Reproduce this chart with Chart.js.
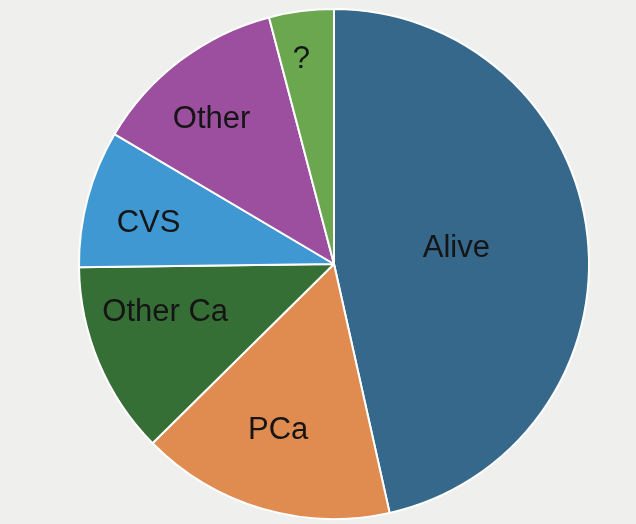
<!DOCTYPE html>
<html>
<head>
<meta charset="utf-8">
<script src="https://cdn.jsdelivr.net/npm/chart.js@4"></script>
<style>
  html, body { margin: 0; padding: 0; background: #efefed; }
  #wrap { width: 636px; height: 524px; }
</style>
</head>
<body>
<div id="wrap"><canvas id="pie"></canvas></div>
<script>
// slices, clockwise from 12 o'clock
const labels = ['Alive', 'PCa', 'Other Ca', 'CVS', 'Other', '?'];
const shares = [46.5, 16.1, 12.2, 8.7, 12.4, 4.1];
const colors = ['#35688a', '#e08b4f', '#366f35', '#3f98d2', '#9c4f9f', '#6aa74f'];
// label placement: fraction of radius, and nudge (degrees) off the slice middle
const labelRadius = [0.485, 0.68, 0.686, 0.746, 0.749, 0.82];
const labelNudge = [-2, 2.4, 7.5, -2, -2.8, -1.6];

const sliceLabels = {
    id: 'sliceLabels',
    afterDatasetsDraw(chart) {
        const ctx = chart.ctx;
        const arcs = chart.getDatasetMeta(0).data;
        ctx.save();
        ctx.font = '31px "Liberation Sans", Arial, sans-serif';
        ctx.fillStyle = '#151515';
        ctx.textAlign = 'center';
        ctx.textBaseline = 'alphabetic';
        arcs.forEach(function(arc, i) {
            const mid = (arc.startAngle + arc.endAngle) / 2 + labelNudge[i] * Math.PI / 180;
            const r = arc.outerRadius * labelRadius[i];
            // baseline sits half a cap height below the target point
            ctx.fillText(labels[i], arc.x + Math.cos(mid) * r, arc.y + Math.sin(mid) * r + 11);
        });
        ctx.restore();
    }
};

new Chart(document.getElementById('pie'), {
    type: 'pie',
    data: {
        labels: labels,
        datasets: [{
            data: shares,
            backgroundColor: colors,
            borderColor: '#ffffff',
            borderWidth: 2
        }]
    },
    options: {
        responsive: true,
        maintainAspectRatio: false,
        animation: false,
        layout: { padding: { top: 8, bottom: 4, left: 32, right: 0 } },
        plugins: {
            legend: { display: false },
            tooltip: { enabled: false }
        }
    },
    plugins: [sliceLabels]
});
</script>
</body>
</html>
